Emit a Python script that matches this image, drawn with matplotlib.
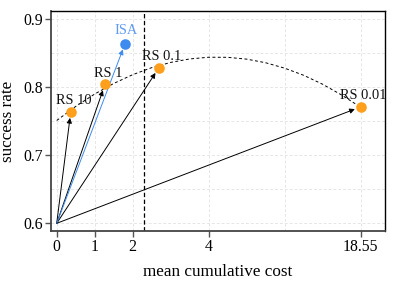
import numpy as np
import matplotlib
matplotlib.use("Agg")
import matplotlib.pyplot as plt

# ---- data ----
labels = ["RS 10", "RS 1", "RS 0.1", "RS 0.01"]
rs_cost = [0.37, 1.27, 2.69, 18.55]
rs_success = [0.764, 0.804, 0.8285, 0.771]
isa_label = "ISA"
isa_cost = 1.80
isa_success = 0.864
origin = (0.0, 0.6)
budget_line = 2.31
trend_x = [0.0, 0.5, 1.0, 1.5, 2.0, 2.5, 3.0, 3.5, 4.0, 5.82, 7.64, 9.46, 11.28, 13.09, 14.91, 16.73, 18.19]
trend_y = [0.751, 0.7717, 0.7899, 0.8054, 0.8183, 0.8286, 0.8363, 0.8414, 0.8439,
           0.8438, 0.8411, 0.8358, 0.8278, 0.8174, 0.8042, 0.7884, 0.774]
xticks = [0, 1, 2, 4, 18.55]
xtick_labels = ["0", "1", "2", "4", "18.55"]
yticks = [0.6, 0.7, 0.8, 0.9]

BREAK = 4.0
COMP = 14.55 / 4.0

def fwd(x):
    x = np.asarray(x, dtype=float)
    return np.where(x <= BREAK, x, BREAK + (x - BREAK) / COMP)

def inv(p):
    p = np.asarray(p, dtype=float)
    return np.where(p <= BREAK, p, BREAK + (p - BREAK) * COMP)

plt.rcParams['font.family'] = ['Liberation Serif', 'DejaVu Serif']
plt.rcParams['mathtext.fontset'] = 'stix'

fig = plt.figure(figsize=(3.97, 2.83), dpi=100)
ax = fig.add_axes([0.1285, 0.1837, 0.8413, 0.7774])
ax.set_xscale('function', functions=(fwd, inv))
ax.set_xlim(-0.15, float(inv(8.64)))
ax.set_ylim(0.5887, 0.9118)

orange = '#FF9F1C'
blue = '#3D8BEF'

ax.set_xticks(xticks)
ax.set_xticklabels(xtick_labels)
ax.set_xticks([float(inv(6.0))], minor=True)
ax.set_yticks(yticks)
ax.set_yticklabels([f"{v:.1f}" for v in yticks])
ax.set_yticks([0.65, 0.75, 0.85], minor=True)
ax.grid(True, which='both', color='#e6e6e6', linestyle=(0, (3, 2)), linewidth=0.7)
ax.set_axisbelow(True)
ax.tick_params(which='minor', length=0)
ax.tick_params(which='major', direction='out', length=4, width=1, color='#555555',
               labelsize=11.3, pad=2)

for s in ax.spines.values():
    s.set_color('black')
    s.set_linewidth(1.0)
ax.spines['left'].set_color('#444444')
ax.spines['bottom'].set_color('#444444')
ax.spines['left'].set_linewidth(1.3)
ax.spines['bottom'].set_linewidth(1.3)

# trend curve
ax.plot(trend_x, trend_y, color='black', linestyle=(0, (3, 2.5)), linewidth=0.7, zorder=2)
# budget line
ax.axvline(budget_line, color='black', linestyle=(0, (3.5, 2)), linewidth=0.9, zorder=2)

# arrows
for cx, cy in zip(rs_cost, rs_success):
    ax.annotate('', xy=(cx, cy), xytext=origin,
                arrowprops=dict(arrowstyle='-|>', color='black', lw=0.7,
                                shrinkA=0, shrinkB=4.5, mutation_scale=7.5), zorder=3)
ax.annotate('', xy=(isa_cost, isa_success), xytext=origin,
            arrowprops=dict(arrowstyle='-|>', color=blue, lw=0.7,
                            shrinkA=0, shrinkB=4.5, mutation_scale=7.5), zorder=3)

ax.scatter(rs_cost, rs_success, s=58, color=orange, zorder=4, linewidths=0)
ax.scatter([isa_cost], [isa_success], s=58, color=blue, zorder=4, linewidths=0)

for lab, cx, cy in zip(labels, rs_cost, rs_success):
    ax.annotate(lab, (cx, cy), xytext=(2, 3.5), textcoords='offset points',
                ha='center', va='bottom', fontsize=10.4, color='#111111', zorder=5)
ax.annotate(isa_label, (isa_cost, isa_success), xytext=(1, 4.5), textcoords='offset points',
            ha='center', va='bottom', fontsize=10.4, color='#5F9BF2', zorder=5)

ax.set_xlabel('mean cumulative cost', fontsize=12.3, labelpad=6)
ax.set_ylabel('success rate', fontsize=12.3, labelpad=5)

fig.savefig('out.png', dpi=100)
